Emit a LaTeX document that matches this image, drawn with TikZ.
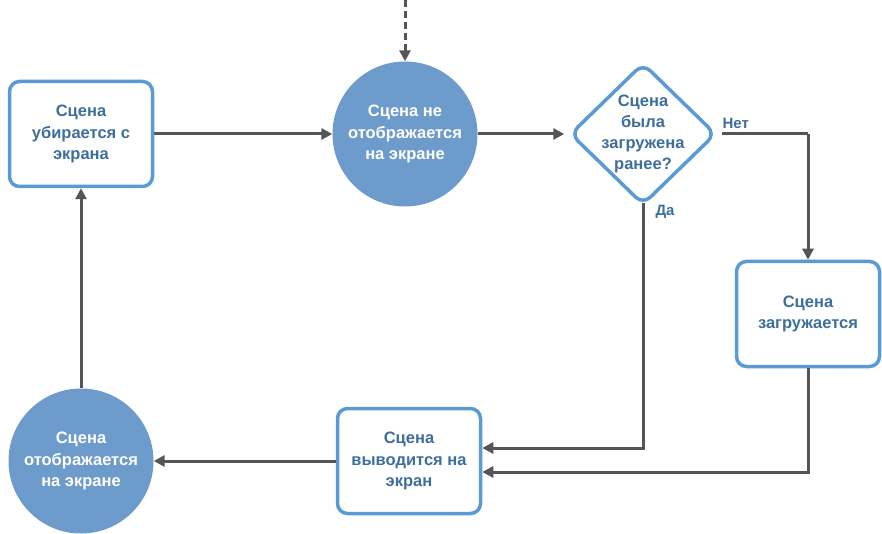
\documentclass[tikz,border=0pt]{standalone}
\usepackage{fontspec}
\setmainfont{Liberation Sans}
\usetikzlibrary{shapes.geometric,arrows.meta}
\definecolor{bordblue}{HTML}{5B9BD5}
\definecolor{fillblue}{HTML}{6D9BCB}
\definecolor{txtblue}{HTML}{3E6E9C}
\definecolor{linegray}{HTML}{555555}
\begin{document}
\begin{tikzpicture}[x=1pt,y=-1pt,
  boxnode/.style={draw=bordblue,line width=3.5pt,rounded corners=10pt,fill=white,
    minimum width=143pt,minimum height=105pt,align=center,text=txtblue,
    font=\bfseries\fontsize{16.5}{21.5}\selectfont},
  circnode/.style={circle,fill=fillblue,minimum size=145pt,inner sep=0pt,align=center,text=white,
    font=\bfseries\fontsize{16.5}{21.5}\selectfont},
  decnode/.style={diamond,draw=bordblue,line width=3.5pt,rounded corners=10pt,fill=white,
    minimum width=146pt,minimum height=142pt,inner sep=0pt},
  dectxt/.style={align=center,text=txtblue,font=\bfseries\fontsize{16.5}{21}\selectfont},
  conn/.style={draw=linegray,line width=3pt,-{Triangle[length=11pt,width=11pt]}},
  lbl/.style={text=txtblue,font=\bfseries\fontsize{15}{16}\selectfont}]
\useasboundingbox (0,0) rectangle (882,534);
\node[boxnode] (remove) at (81,134) {Сцена\\убирается с\\экрана};
\node[circnode] (hidden) at (405,134) {Сцена не\\отображается\\на экране};
\node[decnode,label={[dectxt]center:Сцена\\была\\загружена\\ранее?}] (dec) at (643,134) {};
\node[boxnode] (load) at (808,314) {Сцена\\загружается};
\node[boxnode] (show) at (409,461) {Сцена\\выводится на\\экран};
\node[circnode] (shown) at (81,461) {Сцена\\отображается\\на экране};
\coordinate (top) at (405,0);
\draw[conn,dash pattern=on 7pt off 4pt] (top) -- (hidden.north);
\draw[conn] (remove.east) -- (hidden.west);
\draw[conn] (hidden.east) -- ([xshift=-4pt]dec.west);
\draw[draw=linegray,line width=3pt] ([xshift=4pt]dec.east) -- (load.north |- dec.east);
\draw[conn] (load.north |- dec.east) -- (load.north);
\node[lbl,anchor=south west] (net) at (719,132) {Нет};
\draw[conn] ([yshift=4pt]dec.south) -- (643,448) -- (show.east |- 643,448);
\node[lbl,anchor=west] (da) at (652,212) {Да};
\draw[conn] (load.south) -- (808,472) -- (show.east |- 808,472);
\draw[conn] (show.west) -- (shown.east);
\draw[conn] (shown.north) -- (remove.south);
\end{tikzpicture}
\end{document}
